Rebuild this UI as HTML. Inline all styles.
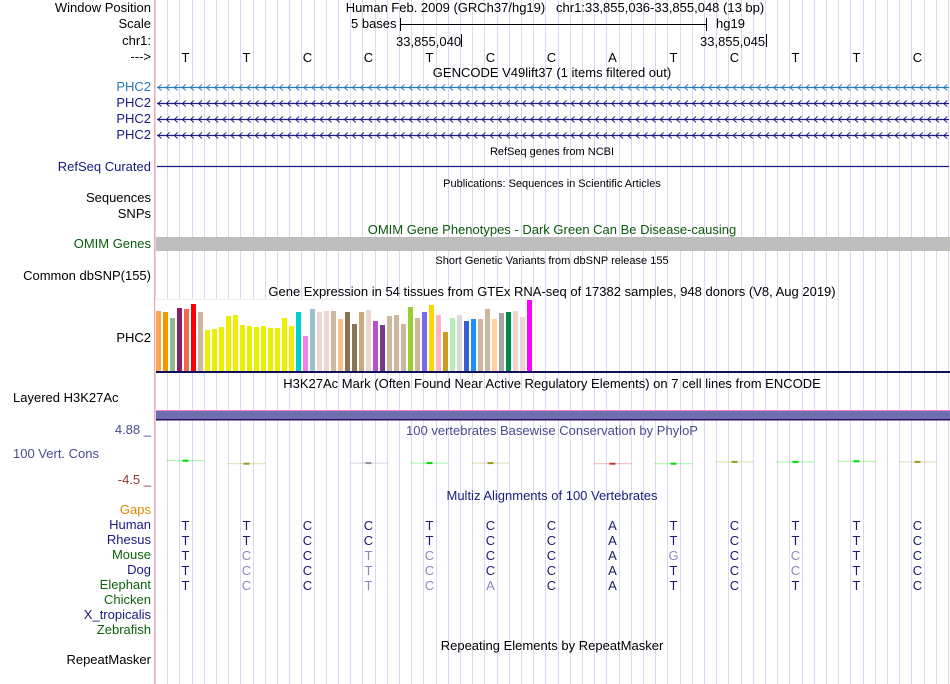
<!DOCTYPE html>
<html><head><meta charset="utf-8"><style>
body{margin:0;width:950px;height:684px;background:#fff;position:relative;overflow:hidden;font-family:"Liberation Sans",sans-serif;font-size:13px;}
.l{position:absolute;right:799px;white-space:nowrap;line-height:14px;text-align:right;}
.t{position:absolute;white-space:nowrap;line-height:14px;}
.c{transform:translateX(-50%);}
</style></head><body>
<svg id="grid" width="950" height="684" style="position:absolute;left:0;top:0"></svg>
<div class="l" style="top:1px">Window Position</div>
<div class="l" style="top:17px">Scale</div>
<div class="l" style="top:34px">chr1:</div>
<div class="l" style="top:50px">---&gt;</div>
<div class="t c" style="left:555px;top:1px">Human Feb. 2009 (GRCh37/hg19) &nbsp; chr1:33,855,036-33,855,048 (13 bp)</div>
<div class="t" style="left:351px;top:17px">5 bases</div>
<div class="t" style="left:716px;top:17px">hg19</div>
<div class="t" style="left:396px;top:35px">33,855,040</div>
<div class="t" style="left:700px;top:35px">33,855,045</div>
<div class="t c" style="left:552px;top:66px">GENCODE V49lift37 (1 items filtered out)</div>
<div class="l" style="top:80px;color:#2a7ab8">PHC2</div>
<div class="l" style="top:96px;color:#1a1a80">PHC2</div>
<div class="l" style="top:112px;color:#1a1a80">PHC2</div>
<div class="l" style="top:128px;color:#1a1a80">PHC2</div>
<div class="t c" style="left:552px;top:145px;font-size:11px">RefSeq genes from NCBI</div>
<div class="l" style="top:160px;color:#1a1a80">RefSeq Curated</div>
<div class="t c" style="left:552px;top:177px;font-size:11px">Publications: Sequences in Scientific Articles</div>
<div class="l" style="top:191px">Sequences</div>
<div class="l" style="top:207px">SNPs</div>
<div class="t c" style="left:552px;top:223px;color:#0b5a0b">OMIM Gene Phenotypes - Dark Green Can Be Disease-causing</div>
<div class="l" style="top:237px;color:#0b5a0b">OMIM Genes</div>
<div class="t c" style="left:552px;top:254px;font-size:11px">Short Genetic Variants from dbSNP release 155</div>
<div class="l" style="top:269px">Common dbSNP(155)</div>
<div class="t c" style="left:552px;top:285px">Gene Expression in 54 tissues from GTEx RNA-seq of 17382 samples, 948 donors (V8, Aug 2019)</div>
<div class="l" style="top:331px">PHC2</div>
<div class="t c" style="left:552px;top:377px">H3K27Ac Mark (Often Found Near Active Regulatory Elements) on 7 cell lines from ENCODE</div>
<div class="t" style="top:391px;left:13px">Layered H3K27Ac</div>
<div class="l" style="top:423px;color:#4a4a90">4.88 _</div>
<div class="t c" style="left:552px;top:424px;color:#4a4a90">100 vertebrates Basewise Conservation by PhyloP</div>
<div class="t" style="top:447px;left:13px;color:#4a4a90">100 Vert. Cons</div>
<div class="l" style="top:473px;color:#8b3a3a">-4.5 _</div>
<div class="t c" style="left:552px;top:489px;color:#1a1a80">Multiz Alignments of 100 Vertebrates</div>
<div class="l" style="top:503px;color:#e08a00">Gaps</div>
<div class="l" style="top:518px;color:#1a1a80">Human</div>
<div class="l" style="top:533px;color:#1a1a80">Rhesus</div>
<div class="l" style="top:548px;color:#0b640b">Mouse</div>
<div class="l" style="top:563px;color:#1a1a80">Dog</div>
<div class="l" style="top:578px;color:#0b640b">Elephant</div>
<div class="l" style="top:593px;color:#0b640b">Chicken</div>
<div class="l" style="top:608px;color:#1a1a80">X_tropicalis</div>
<div class="l" style="top:623px;color:#0b640b">Zebrafish</div>
<div class="t c" style="left:552px;top:639px">Repeating Elements by RepeatMasker</div>
<div class="l" style="top:653px">RepeatMasker</div>
<script>
const bases=["T","T","C","C","T","C","C","A","T","C","T","T","C"];
const human="TTCCTCCATCTTC", rhesus="TTCCTCCATCTTC", mouse="TCCTCCCAGCCTC", dog="TCCTCCCATCCTC", elephant="TCCTCACATCTTC";
const mouseFaint=[0,1,0,1,1,0,0,0,1,0,1,0,0];
const dogFaint=[0,1,0,1,1,0,0,0,0,0,1,0,0];
const elephantFaint=[0,1,0,1,1,1,0,0,0,0,0,0,0];
const gtexValues=[60,59,53,63,62,67,59,41,42,44,55,56,46,45,44,45,43,43,53,45,59,35,62,59,60,60,52,59,47,59,61,50,46,55,56,47,64,53,59,66,56,39,53,56,50,52,52,62,52,58,59,60,54,71];
const gtexColors=["#FFA54F","#EE9A00","#8FBC8F","#8B1C62","#EE6A50","#FF0000","#CDB79E","#EEEE00","#EEEE00","#EEEE00","#EEEE00","#EEEE00","#EEEE00","#EEEE00","#EEEE00","#EEEE00","#EEEE00","#EEEE00","#EEEE00","#EEEE00","#00CDCD","#EE82EE","#9AC0CD","#EED5D2","#EED5D2","#CDB79E","#F4C38C","#8B7355","#8B7355","#CDAA7D","#EED5D2","#B452CD","#7A378B","#CDB79E","#CDB79E","#CDB79E","#9ACD32","#CDB79E","#7B68EE","#FFD700","#FFB6C1","#CD9B1D","#B4EEB4","#D9D9D9","#3A5FCD","#1E90FF","#CDB79E","#CDB79E","#FFD39B","#A6A6A6","#008B45","#EED5D2","#EED5D2","#FF00FF"];
const consBase=[0,1,3,4,5,7,8,9,10,11,12];
const consColor=["#00dd00","#9a9a20","#9090a0","#00dd00","#9a9a20","#cc3030","#00dd00","#9a9a20","#00dd00","#00dd00","#9a9a20"];
const consVals=[0.3,-0.2,-0.1,-0.1,-0.1,-0.2,-0.2,0.1,0.1,0.2,0.1];

const NS="http://www.w3.org/2000/svg";
const svg=document.getElementById('grid');
const X0=155, BW=61;
const xBase=i=>X0+BW*i+BW/2;
function mk(tag,attrs,parent){const e=document.createElementNS(NS,tag);for(const k in attrs)e.setAttribute(k,attrs[k]);(parent||svg).appendChild(e);return e;}
for(let k=0;k<=65;k++){const x=Math.round(X0+12.2*k)+0.5;const g=mk('line',{x1:x,y1:0,x2:x,y2:684,stroke:'#dcd8f2','stroke-width':1});

}
const red=mk('line',{x1:154.5,y1:0,x2:154.5,y2:684,stroke:'#f4a8a8'});


mk('line',{x1:400,y1:24.5,x2:706,y2:24.5,stroke:'#000'});
mk('line',{x1:400.5,y1:18,x2:400.5,y2:31,stroke:'#000'});
mk('line',{x1:706.5,y1:18,x2:706.5,y2:31,stroke:'#000'});
mk('line',{x1:461.5,y1:34,x2:461.5,y2:47,stroke:'#000'});
mk('line',{x1:766.5,y1:34,x2:766.5,y2:47,stroke:'#000'});
bases.forEach((b,i)=>{const t=mk('text',{x:xBase(i),y:62,'text-anchor':'middle','font-size':13,'font-family':'Liberation Sans'});t.textContent=b;

});
[[87,'#2a7ab8'],[103,'#1a1a80'],[119,'#1a1a80'],[135,'#1a1a80']].forEach(([y,c],j)=>{
 const g=mk('g',{});
 
 
 mk('line',{x1:157,y1:y+0.5,x2:949,y2:y+0.5,stroke:c,'stroke-width':1.2},g);
 let d='';for(let x=158;x<948;x+=8.1){d+=`M${x+3.5},${y-2.5}L${x},${y+0.5}L${x+3.5},${y+3.5}`;}
 mk('path',{d:d,stroke:c,fill:'none','stroke-width':0.9},g);
});
const rs=mk('line',{x1:157,y1:166.5,x2:949,y2:166.5,stroke:'#1a1a80','stroke-width':1.3});


const om=mk('rect',{x:156,y:237,width:794,height:14,fill:'#bebebe'});


const bottom=371, scaleY=1;
mk('rect',{x:155.5,y:299.5,width:380,height:72,fill:'#fff',stroke:'#eeeeee'});
gtexValues.forEach((v,i)=>{const h=v*scaleY;const r=mk('rect',{x:156+i*7,y:bottom-h,width:5,height:h,fill:gtexColors[i]});

});
mk('rect',{x:156,y:371,width:794,height:2,fill:'#10105a'});
mk('rect',{x:156,y:410,width:794,height:1,fill:'#ff7fc8'});
const hb=mk('rect',{x:156,y:411,width:794,height:8,fill:'#7070b0'});


mk('rect',{x:156,y:419,width:794,height:1.5,fill:'#2a1060'});
const yMid=462;
consBase.forEach((b,i)=>{const y=yMid-consVals[i]*6;const cx=xBase(b);
 const g=mk('g',{});
 
 
 mk('rect',{x:cx-19,y:y,width:38,height:1,fill:consColor[i],opacity:0.35},g);
 mk('rect',{x:cx-3,y:y-0.5,width:6,height:2,fill:consColor[i]},g);
});
const rows=[[human,null,525],[rhesus,null,540],[mouse,mouseFaint,555],[dog,dogFaint,570],[elephant,elephantFaint,585]];
rows.forEach(([s,f,y],r)=>{for(let i=0;i<13;i++){const t=mk('text',{x:xBase(i),y:y+5,'text-anchor':'middle','font-size':13,'font-family':'Liberation Sans',fill:(f&&f[i])?'#8888bb':'#1a1a70'});t.textContent=s[i];

}});
</script>
</body></html>
